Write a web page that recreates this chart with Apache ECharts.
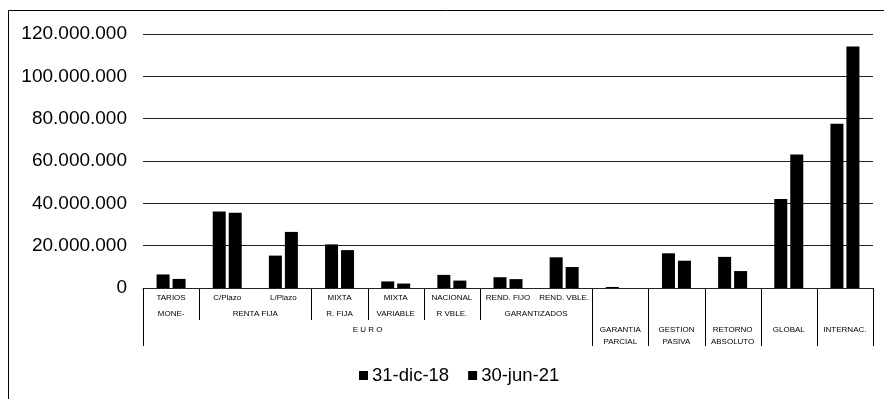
<!DOCTYPE html>
<html><head><meta charset="utf-8">
<script src="https://cdn.jsdelivr.net/npm/echarts@6/dist/echarts.min.js"></script>
<style>html,body{margin:0;padding:0;background:#fff}#c{width:884px;height:399px}</style>
</head><body><div id="c"></div>
<script>
// ---- data ----
const categories = ['MONETARIOS','C/Plazo','L/Plazo','MIXTA R. FIJA','MIXTA VARIABLE','NACIONAL R VBLE.','REND. FIJO','REND. VBLE.','GARANTIA PARCIAL','GESTION PASIVA','RETORNO ABSOLUTO','GLOBAL','INTERNAC.'];
const seriesNames = ['31-dic-18','30-jun-21'];
const values2018 = [6400000, 36100000, 15300000, 20600000, 3100000, 6200000, 5100000, 14500000, 500000, 16400000, 14700000, 42100000, 77600000];
const values2021 = [4300000, 35600000, 26500000, 17900000, 2100000, 3500000, 4200000, 9900000, 0, 12900000, 8000000, 63100000, 114100000];
const yTickValues = [0, 20000000, 40000000, 60000000, 80000000, 100000000, 120000000];
// category table labels (text, first category index, last category index)
const row1Labels = [['TARIOS',0,0],['C/Plazo',1,1],['L/Plazo',2,2],['MIXTA',3,3],['MIXTA',4,4],['NACIONAL',5,5],['REND. FIJO',6,6],['REND. VBLE.',7,7]];
const row2Labels = [['MONE-',0,0],['RENTA FIJA',1,2],['R. FIJA',3,3],['VARIABLE',4,4],['R VBLE.',5,5],['GARANTIZADOS',6,7]];
const row3Labels = [['E U R O',0,7],['GARANTIA\nPARCIAL',8,8],['GESTION\nPASIVA',9,9],['RETORNO\nABSOLUTO',10,10],['GLOBAL',11,11],['INTERNAC.',12,12]];

const FONT = '"Liberation Sans", Arial, sans-serif';
const fmt = v => String(v).replace(/\B(?=(\d{3})+(?!\d))/g, '.');

const chart = echarts.init(document.getElementById('c'), null, {renderer:'canvas'});
chart.setOption({
  animation: false,
  backgroundColor: '#fff',
  grid: {left: 143, right: 11, top: 34, bottom: 111, containLabel: false},
  legend: {
    data: seriesNames, left: 354, top: 361, icon: 'rect', itemWidth: 9, itemHeight: 9, itemGap: 19,
    textStyle: {fontFamily: FONT, fontSize: 18.5, color: '#000', padding: [0,0,0,-1]}
  },
  xAxis: {
    type: 'category', data: categories,
    axisLine: {show: true, lineStyle: {color: '#222', width: 1}},
    axisTick: {show: false}, axisLabel: {show: false}, splitLine: {show: false}
  },
  yAxis: {
    type: 'value', min: yTickValues[0], max: yTickValues[yTickValues.length-1], interval: yTickValues[1]-yTickValues[0],
    axisLine: {show: false}, axisTick: {show: false},
    axisLabel: {fontFamily: FONT, fontSize: 19, color: '#000', margin: 16, formatter: fmt},
    splitLine: {show: true, lineStyle: {color: '#222', width: 1}}
  },
  series: [
    {name: seriesNames[0], type: 'bar', data: values2018, barWidth: 13, barGap: '23%', itemStyle: {color: '#000'}},
    {name: seriesNames[1], type: 'bar', data: values2021, barWidth: 13, itemStyle: {color: '#000'}}
  ]
});

// ---- category table under the axis, positioned via the axis scale ----
const cx = i => chart.convertToPixel({xAxisIndex: 0}, categories[i]);
const band = cx(1) - cx(0);
const edge = i => cx(0) - band/2 + i*band;
const y0 = chart.convertToPixel({yAxisIndex: 0}, 0);
const els = [];
const textEl = (t, a, b, y, va) => ({
  type: 'text', silent: true,
  style: {text: t, x: (edge(a) + edge(b+1))/2, y: y, align: 'center', verticalAlign: va || 'middle',
          font: '8px ' + FONT, fill: '#000', lineHeight: 12}
});
row1Labels.forEach(([t,a,b]) => els.push(textEl(t, a, b, y0 + 10)));
row2Labels.forEach(([t,a,b]) => els.push(textEl(t, a, b, y0 + 25.5)));
row3Labels.forEach(([t,a,b]) => els.push(textEl(t, a, b, y0 + 36, 'top')));
const longB = new Set(), shortB = new Set();
row3Labels.forEach(([t,a,b]) => { longB.add(a); longB.add(b+1); });
row2Labels.forEach(([t,a,b]) => { [a, b+1].forEach(k => { if (!longB.has(k)) shortB.add(k); }); });
const vline = (k, len) => ({
  type: 'line', silent: true,
  shape: {x1: Math.round(edge(k)) + 0.5, y1: y0, x2: Math.round(edge(k)) + 0.5, y2: y0 + len},
  style: {stroke: '#000', lineWidth: 1}
});
longB.forEach(k => els.push(vline(k, 58)));
shortB.forEach(k => els.push(vline(k, 32)));
// outer frame of the picture
els.push({type: 'rect', silent: true, shape: {x: 8.5, y: 10.5, width: 1000, height: 600}, style: {fill: null, stroke: '#000', lineWidth: 1}});
chart.setOption({graphic: els});
</script>
</body></html>
